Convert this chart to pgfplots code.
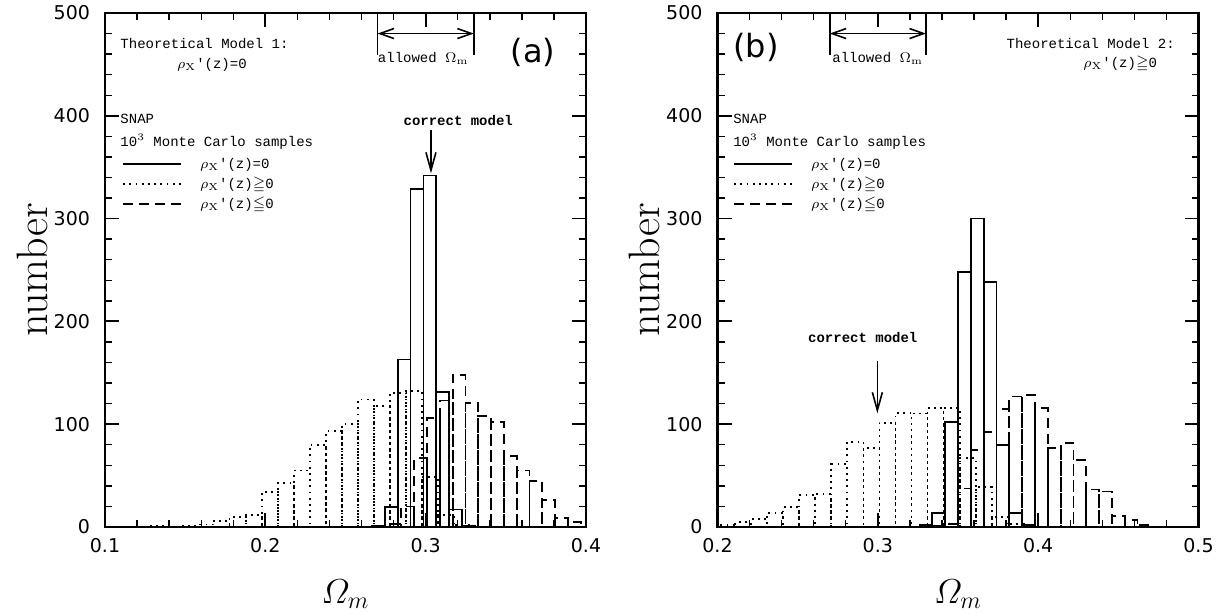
\documentclass[border=0pt]{standalone}
\usepackage{fontspec}
\usepackage{amsmath,amssymb}
\usepackage{pgfplots}
\pgfplotsset{compat=1.18}
\usetikzlibrary{arrows.meta}
\newfontfamily\tickfont{DejaVu Sans}
\newfontfamily\annfont{Liberation Mono}

% histograms: left bin edge, count (last row = right edge of last bin)
\pgfplotstableread{
x y
0.2586 0.5
0.2666 1
0.2746 19.7
0.2826 163
0.2906 329
0.2986 342
0.3066 131.5
0.3146 17
0.3226 1
0.3306 0
}\solidA
\pgfplotstableread{
x y
0.1277 1
0.1377 0.5
0.1477 1
0.1577 2.5
0.1677 6
0.1777 10
0.1877 12
0.1977 34
0.2077 42.5
0.2177 55
0.2277 80
0.2377 93
0.2477 100
0.2577 124
0.2677 117.5
0.2777 130.5
0.2877 132.5
0.2977 49
0.3077 11.5
0.3177 2
0.3277 0
}\dotA
\pgfplotstableread{
x y
0.2688 1
0.2768 3
0.2848 20
0.2928 67
0.3008 106
0.3088 123
0.3168 148
0.3248 121
0.3328 108
0.3408 102
0.3488 69
0.3568 55
0.3648 45
0.3728 26
0.3808 8.5
0.3888 5
0.3968 0
}\dashA
\pgfplotstableread{
x y
0.318 0.5
0.326 2
0.334 13.3
0.342 102
0.350 248
0.358 300
0.366 238.5
0.374 80
0.382 13.3
0.390 2
0.398 0
}\solidB
\pgfplotstableread{
x y
0.201 2
0.211 4.5
0.221 7.5
0.231 14
0.241 19.5
0.251 31
0.261 32
0.271 61
0.281 83
0.291 76.5
0.301 101.5
0.311 111
0.321 110.5
0.331 115.5
0.341 115.5
0.351 67
0.361 39
0.371 10
0.381 3
0.391 0
}\dotB
\pgfplotstableread{
x y
0.334 1
0.342 3
0.350 37.5
0.358 75
0.366 92.5
0.374 114.5
0.382 127
0.390 128.5
0.398 115.5
0.406 76.5
0.414 82
0.422 65
0.430 36.5
0.438 34.5
0.446 10.5
0.454 7
0.462 2
0.470 0
}\dashB

\tikzset{
  ann/.style={font=\annfont\fontsize{7}{8}\selectfont, inner sep=0pt},
  annb/.style={font=\annfont\bfseries\fontsize{7}{8}\selectfont, inner sep=0pt},
  arr/.style={line width=0.8pt, -{Straight Barb[length=9pt,width=5pt]}},
  dbl/.style={line width=0.8pt, {Straight Barb[length=7pt,width=5pt]}-{Straight Barb[length=7pt,width=5pt]}},
}

\pgfplotsset{
  histo/.style={ybar interval, fill=none, draw=black, line width=0.9pt,
    legend image code/.code={\draw (0pt,0pt) -- (29pt,0pt);}},
  solidh/.style={histo, solid},
  doth/.style={histo, dash pattern=on 0.9pt off 2.2pt},
  dashh/.style={histo, dash pattern=on 5pt off 3pt},
  panel/.style={
    scale only axis, width=240.5pt, height=257pt, anchor=south west,
    ymin=0, ymax=500, ytick={0,100,...,500}, minor tick num=4,
    tick align=inside, major tick length=7pt, minor tick length=3.5pt,
    axis line style={line width=1.2pt},
    major tick style={black, line width=0.9pt},
    minor tick style={black, line width=0.7pt},
    tick label style={font=\tickfont\fontsize{9.5}{11}\selectfont},
    yticklabel style={xshift=-4pt},
    xticklabel style={yshift=-2pt},
    /pgf/number format/assume math mode=true,
    xlabel={$\varOmega_m$}, ylabel={number},
    every axis x label/.style={at={(axis description cs:0.5,-0.13)}, anchor=center, font=\fontsize{18.5}{20}\selectfont},
    every axis y label/.style={at={(axis description cs:-0.151,0.5)}, rotate=90, anchor=center, font=\fontsize{22}{24}\selectfont},
    legend cell align=left,
    legend style={draw=none, fill=none, inner sep=0pt, anchor=north west,
      font=\annfont\fontsize{7}{8}\selectfont,
      nodes={text height=6pt, text depth=2pt, inner ysep=1pt, inner xsep=1pt},
      column sep=8pt, row sep=0pt},
  },
}

\begin{document}
\begin{tikzpicture}
\useasboundingbox (0,0) rectangle (613pt,307pt);

% (a)
\begin{axis}[panel, at={(52.5pt,43.5pt)},
  xmin=0.1, xmax=0.4, xtick={0.1,0.2,0.3,0.4},
  legend style={at={(axis description cs:0.035,0.726)}}]
  \addplot[solidh] table {\solidA};
  \addplot[doth] table {\dotA};
  \addplot[dashh] table {\dashA};
  \legend{$\rho_{\mathrm{X}}$'(z)=0, $\rho_{\mathrm{X}}$'(z)$\geqq$0, $\rho_{\mathrm{X}}$'(z)$\leqq$0}
  \node[ann, anchor=west] at (axis cs:0.1094,470) {Theoretical Model 1:};
  \node[ann] at (axis cs:0.1667,450) {$\rho_{\mathrm{X}}$'(z)=0};
  \node[font=\tickfont\fontsize{16}{18}\selectfont, inner sep=0pt] at (axis cs:0.367,462) {(a)};
  \node[ann, anchor=west] at (axis cs:0.1094,397) {SNAP};
  \node[ann, anchor=west] at (axis cs:0.1094,374.5) {10$^3$ Monte Carlo samples};
  \node[annb] at (axis cs:0.3203,395) {correct model};
  \draw[arr] (axis cs:0.3033,386) -- (axis cs:0.3033,344);
  \draw[line width=0.8pt] (axis cs:0.27,500) -- (axis cs:0.27,459);
  \draw[line width=0.8pt] (axis cs:0.33,500) -- (axis cs:0.33,459);
  \draw[dbl] (axis cs:0.27,480) -- (axis cs:0.33,480);
  \node[ann] at (axis cs:0.2985,456) {allowed $\Omega_{\mathrm{m}}$};
\end{axis}

% (b)
\begin{axis}[panel, at={(358.75pt,43.5pt)},
  xmin=0.2, xmax=0.5, xtick={0.2,0.3,0.4,0.5},
  legend style={at={(axis description cs:0.032,0.726)}}]
  \addplot[solidh] table {\solidB};
  \addplot[doth] table {\dotB};
  \addplot[dashh] table {\dashB};
  \legend{$\rho_{\mathrm{X}}$'(z)=0, $\rho_{\mathrm{X}}$'(z)$\geqq$0, $\rho_{\mathrm{X}}$'(z)$\leqq$0}
  \node[ann, anchor=east] at (axis cs:0.4854,470) {Theoretical Model 2:};
  \node[ann] at (axis cs:0.4511,450) {$\rho_{\mathrm{X}}$'(z)$\geqq$0};
  \node[font=\tickfont\fontsize{16}{18}\selectfont, inner sep=0pt] at (axis cs:0.224,466) {(b)};
  \node[ann, anchor=west] at (axis cs:0.2096,397) {SNAP};
  \node[ann, anchor=west] at (axis cs:0.2096,374.5) {10$^3$ Monte Carlo samples};
  \node[annb] at (axis cs:0.2906,184) {correct model};
  \draw[arr] (axis cs:0.2997,161) -- (axis cs:0.2997,110.6);
  \draw[line width=0.8pt] (axis cs:0.27,500) -- (axis cs:0.27,459);
  \draw[line width=0.8pt] (axis cs:0.33,500) -- (axis cs:0.33,459);
  \draw[dbl] (axis cs:0.27,480) -- (axis cs:0.33,480);
  \node[ann] at (axis cs:0.2999,456) {allowed $\Omega_{\mathrm{m}}$};
\end{axis}
\end{tikzpicture}
\end{document}
